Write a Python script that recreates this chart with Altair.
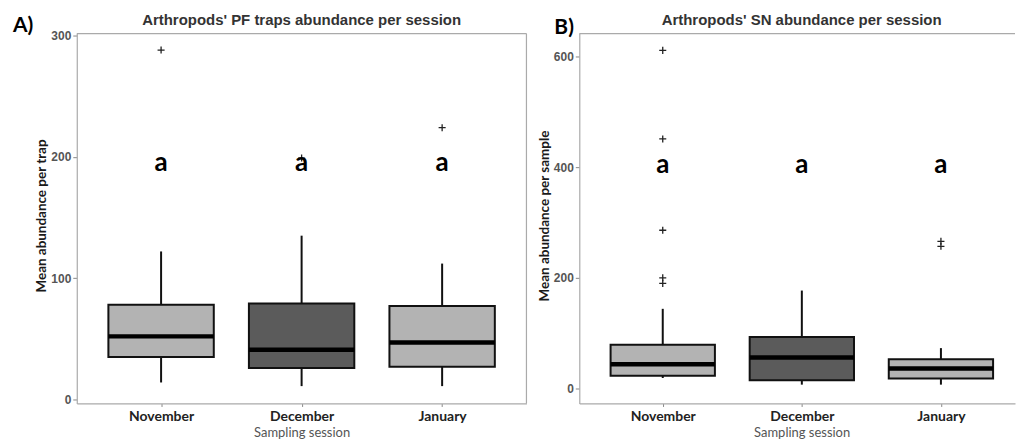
import altair as alt
import pandas as pd

categories = ["November", "December", "January"]

# Panel A - pitfall traps
a_lower = [14, 11, 11]
a_q1 = [35, 26, 27]
a_median = [52, 41, 47]
a_q3 = [78, 79, 77]
a_upper = [122, 135, 112]
a_out_month = ["November", "December", "January"]
a_out_value = [288, 199, 224]
a_letters = ["a", "a", "a"]
a_letter_y = [195, 195, 195]
a_yticks = [0, 100, 200, 300]

# Panel B - sweep net
b_lower = [19, 7, 7]
b_q1 = [23, 15, 18]
b_median = [44, 56, 36]
b_q3 = [79, 93, 53]
b_upper = [144, 177, 73]
b_out_month = ["November", "November", "November", "November", "November", "January", "January"]
b_out_value = [611, 451, 286, 200, 190, 266, 257]
b_letters = ["a", "a", "a"]
b_letter_y = [403, 403, 403]
b_yticks = [0, 200, 400, 600]

box_colors = ["#b3b3b3", "#5b5b5b", "#b3b3b3"]
label_expr = "[" + ",".join("'" + c + "'" for c in categories) + "][datum.value - 1]"


def panel(lower, q1, med, q3, upper, out_m, out_v, letters, letter_y, yticks,
          ydom, xdom, w, h, title, tag, tag_x, tag_y, ytitle, title_x):
    pos = {c: i + 1 for i, c in enumerate(categories)}
    box = pd.DataFrame({
        "month": categories,
        "pos": [pos[c] for c in categories],
        "lower": lower, "q1": q1, "median": med, "q3": q3, "upper": upper,
        "letter": letters, "ly": letter_y,
    })
    box["lo"] = box["pos"] - 0.375
    box["hi"] = box["pos"] + 0.375
    outl = pd.DataFrame({"month": out_m, "value": out_v})
    outl["pos"] = [pos[m] for m in out_m]

    xscale = alt.Scale(domain=xdom, nice=False, zero=False)
    xaxis = alt.Axis(values=[1, 2, 3], labelExpr=label_expr, title="Sampling session",
                     grid=False, domainColor="#aaaaaa", domainWidth=1.2,
                     tickColor="#888888", tickSize=3, labelPadding=3,
                     labelFont="Lato", labelFontSize=14, labelFontWeight="bold",
                     labelColor="#222222", titleFont="Lato", titleFontSize=13,
                     titleFontWeight="normal", titleColor="#555555",
                     titleY=29, titleX=title_x, titleBaseline="middle")
    yscale = alt.Scale(domain=ydom, nice=False, zero=False)
    yaxis = alt.Axis(values=yticks, title=ytitle, grid=False,
                     domainColor="#aaaaaa", domainWidth=1.2, tickColor="#888888",
                     tickSize=4, labelPadding=2, labelFont="Liberation Sans",
                     labelFontSize=12, labelFontWeight="bold", labelColor="#555555",
                     titleFont="Lato", titleFontSize=13.5, titleFontWeight="bold",
                     titleColor="#1a1a1a", titleAngle=270, titleX=-35, titleY=h / 2 - 3,
                     titleAlign="center", titleBaseline="middle")

    def X(f):
        return alt.X(f, type="quantitative", scale=xscale, axis=xaxis)

    def Y(f):
        return alt.Y(f, type="quantitative", scale=yscale, axis=yaxis)

    base = alt.Chart(box)
    whisk = base.mark_rule(color="#111111", strokeWidth=2).encode(
        x=X("pos"), y=Y("lower"), y2="upper")
    boxes = base.mark_bar(stroke="#111111", strokeWidth=2).encode(
        x=X("lo"), x2="hi", y=Y("q1"), y2="q3",
        color=alt.Color("month:N", scale=alt.Scale(domain=categories, range=box_colors), legend=None))
    meds = base.mark_rule(color="#000000", strokeWidth=4.5, strokeCap="butt").encode(
        x=X("lo"), x2="hi", y=Y("median"))
    pts = alt.Chart(outl).mark_point(shape="M-1,0L1,0M0,-1L0,1", filled=False, size=50,
                                     strokeWidth=1.3, color="#222222", opacity=1).encode(
        x=X("pos"), y=Y("value"))
    lets = base.mark_text(font="Lato", fontSize=26, fontWeight="bold", color="#000000",
                          baseline="middle").encode(x=X("pos"), y=Y("ly"), text="letter:N")
    one = pd.DataFrame({"t": [title], "g": [tag]})
    top_rule = alt.Chart(one).mark_rule(color="#aaaaaa", strokeWidth=1.2).encode(
        x=alt.value(0), x2=alt.value(w), y=alt.value(0))
    layers = [top_rule, whisk, boxes, meds, pts, lets]
    if w >= 450:
        right_rule = alt.Chart(one).mark_rule(color="#aaaaaa", strokeWidth=1.2).encode(
            x=alt.value(w), y=alt.value(0), y2=alt.value(h))
        layers.insert(0, right_rule)
    ttl = alt.Chart(one).mark_text(font="Liberation Sans", fontSize=15, fontWeight="bold",
                                   color="#333333", align="center", baseline="alphabetic").encode(
        x=alt.value(title_x), y=alt.value(-9), text="t:N")
    tg = alt.Chart(one).mark_text(font="Lato", fontSize=21, fontWeight="bold", color="#000000",
                                  align="left", baseline="alphabetic").encode(
        x=alt.value(tag_x), y=alt.value(tag_y), text="g:N")
    layers += [ttl, tg]
    return alt.layer(*layers).properties(width=w, height=h)


A = panel(a_lower, a_q1, a_median, a_q3, a_upper, a_out_month, a_out_value,
          a_letters, a_letter_y, a_yticks, [-3.3, 301.6], [0.4, 3.6], 451, 371,
          "Arthropods' PF traps abundance per session", "A)", -64, -2,
          "Mean abundance per trap", 225.5)
B = panel(b_lower, b_q1, b_median, b_q3, b_upper, b_out_month, b_out_value,
          b_letters, b_letter_y, b_yticks, [-27, 641.4], [0.4, 3.5326], 437, 371,
          "Arthropods' SN abundance per session", "B)", -25, 0,
          "Mean abundance per sample", 223)

chart = alt.hconcat(A, B, spacing=53, bounds="flush").properties(
    padding={"left": 12, "top": 11, "right": 0, "bottom": 0},
    background="white",
).configure_view(stroke="transparent")

chart.save("out.html", embed_options={"renderer": "svg", "actions": False})
